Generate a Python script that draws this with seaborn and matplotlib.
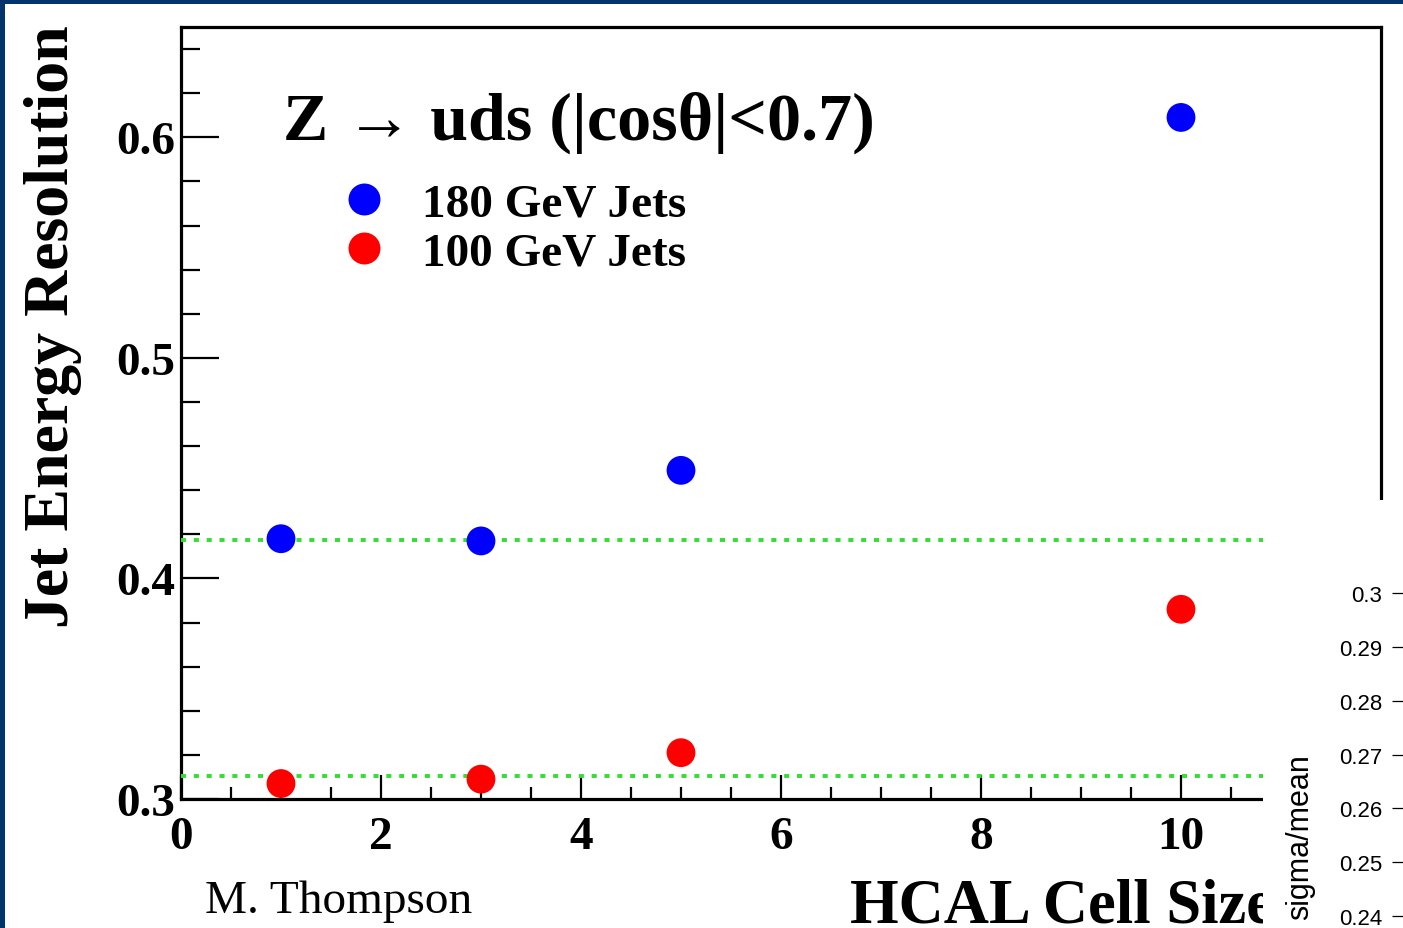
import numpy as np
import pandas as pd
import matplotlib
matplotlib.use("Agg")
import matplotlib.pyplot as plt
from matplotlib.patches import Rectangle
from matplotlib.lines import Line2D
from matplotlib.ticker import MultipleLocator, FixedLocator, FuncFormatter
import seaborn as sns

# ---------------- data ----------------
cell_size = [1, 3, 5, 10]
res_180 = [0.418, 0.417, 0.449, 0.609]
res_100 = [0.307, 0.309, 0.321, 0.386]
err_180 = [0.006, 0.006, 0.006, 0.006]
err_100 = [0.004, 0.004, 0.004, 0.004]
series_labels = ["180 GeV Jets", "100 GeV Jets"]
ref_lines = [0.4175, 0.3104]
overlay_ticks = [0.24, 0.25, 0.26, 0.27, 0.28, 0.29, 0.30]

title_text = "Z \u2192 uds (|cos\u03b8|<0.7)"
xlabel_text = "HCAL Cell Size"
ylabel_text = "Jet Energy Resolution"
author_text = "M. Thompson"
overlay_label = "sigma/mean"

# ---------------- style ----------------
sns.set_style("white")
plt.rcParams["font.family"] = ["Liberation Serif", "DejaVu Serif"]
plt.rcParams["text.color"] = "black"
plt.rcParams["axes.labelcolor"] = "black"
plt.rcParams["xtick.color"] = "black"
plt.rcParams["ytick.color"] = "black"

W, H = 1403, 929
fig = plt.figure(figsize=(W / 100, H / 100), dpi=100)
fig.patch.set_facecolor("#00346b")
fig.add_artist(Rectangle((5 / W, 0), 1, (H - 5) / H, transform=fig.transFigure,
                         facecolor="white", edgecolor="none", zorder=-10))

def fx(px):
    return px / W

def fy(py):
    return 1 - py / H

ax = fig.add_axes([fx(181), fy(800), (1381 - 181) / W, (800 - 28) / H])
ax.set_facecolor("white")

df = pd.DataFrame({
    "cell": cell_size * 2,
    "res": res_180 + res_100,
    "err": err_180 + err_100,
    "series": [series_labels[0]] * len(cell_size) + [series_labels[1]] * len(cell_size),
})
palette = {series_labels[0]: "#0000ff", series_labels[1]: "#ff0000"}

for yv in ref_lines:
    ax.axhline(yv, color="#33dd33", lw=2.8, dashes=(1.3, 2.0), zorder=3)

for lab, sub in df.groupby("series"):
    ax.errorbar(sub["cell"], sub["res"], yerr=sub["err"], fmt="none",
                ecolor=palette[lab], elinewidth=1.5, capsize=0, zorder=4)

sns.scatterplot(data=df, x="cell", y="res", hue="series", palette=palette,
                s=430, edgecolor="none", legend=False, ax=ax, zorder=5)

ax.set_xlim(0, 12)
ax.set_ylim(0.3, 0.65)
ax.xaxis.set_major_locator(FixedLocator([0, 2, 4, 6, 8, 10]))
ax.xaxis.set_minor_locator(MultipleLocator(0.5))
ax.yaxis.set_major_locator(FixedLocator([0.3, 0.4, 0.5, 0.6]))
ax.yaxis.set_minor_locator(MultipleLocator(0.02))
ax.yaxis.set_major_formatter(FuncFormatter(lambda v, p: f"{v:.1f}"))
ax.set_xlabel("")
ax.set_ylabel("")

for s in ax.spines.values():
    s.set_linewidth(2.3)
    s.set_color("black")

ax.tick_params(axis="x", which="major", direction="in", length=17, width=1.6,
               bottom=True, top=False, pad=12)
ax.tick_params(axis="x", which="minor", direction="in", length=9, width=1.6,
               bottom=True, top=False)
ax.tick_params(axis="y", which="major", direction="in", length=27, width=1.6,
               left=True, right=False, pad=4)
ax.tick_params(axis="y", which="minor", direction="in", length=14, width=1.6,
               left=True, right=False)
for t in ax.get_xticklabels() + ax.get_yticklabels():
    t.set_fontfamily(["Liberation Serif", "DejaVu Serif"])
    t.set_fontsize(34)
    t.set_fontweight("bold")
    t.set_color("black")

# title inside plot
ax.text(fx(283), fy(140), title_text, transform=fig.transFigure, ha="left",
        va="baseline", fontsize=49, fontweight="bold", zorder=6)

# legend
handles = [Line2D([], [], marker="o", ls="none", color=palette[l], markeredgecolor="none",
                  markersize=23) for l in series_labels]
leg = ax.legend(handles, series_labels, loc="upper left",
                bbox_to_anchor=(fx(340), fy(183)), bbox_transform=fig.transFigure,
                frameon=False, borderpad=0, borderaxespad=0, handlelength=1.0,
                handletextpad=0.73, labelspacing=0.14,
                prop={"family": ["Liberation Serif", "DejaVu Serif"], "weight": "bold", "size": 34})
for t in leg.get_texts():
    t.set_color("black")

# axis labels as figure text
fig.text(fx(53), fy(327), ylabel_text, rotation=90, ha="center", va="center",
         fontsize=46, fontweight="bold")
fig.text(fx(850), fy(923), xlabel_text, ha="left", va="baseline",
         fontsize=45, fontweight="bold")
fig.text(fx(205), fy(913), author_text, ha="left", va="baseline", fontsize=34)

# overlay white box with a second plot's axis
fig.add_artist(Rectangle((fx(1263), 0), 1, (H - 501) / H, transform=fig.transFigure,
                         facecolor="white", edgecolor="none", zorder=5))
ax2 = fig.add_axes([1.0, 0, 0.1, (H - 501) / H], zorder=10)
ax2.set_facecolor("none")
for s in ax2.spines.values():
    s.set_visible(False)
ax2.set_xticks([])
ax2.set_ylim(0.2378, 0.3173)
ax2.yaxis.set_major_locator(FixedLocator(overlay_ticks))
ax2.yaxis.set_major_formatter(FuncFormatter(lambda v, p: f"{v:g}"))
ax2.tick_params(axis="y", direction="out", length=8, width=0.9, pad=7,
                labelsize=16, left=True)
for t in ax2.get_yticklabels():
    t.set_fontfamily(["Liberation Sans", "DejaVu Sans"])
fig.text(fx(1300), fy(837), overlay_label, rotation=90, ha="center", va="center",
         fontsize=22, family=["Liberation Sans", "DejaVu Sans"], zorder=11)

fig.savefig("out.png", dpi=100, facecolor=fig.get_facecolor())
